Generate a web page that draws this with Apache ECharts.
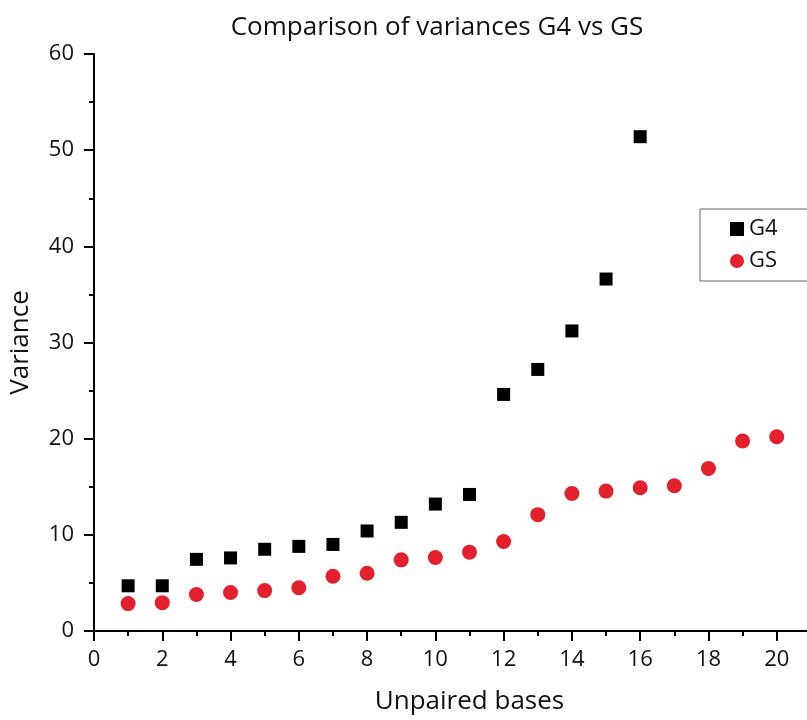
<!DOCTYPE html>
<html>
<head>
    <meta charset="utf-8">
    <title>Comparison of variances G4 vs GS</title>
    <script src="https://cdn.jsdelivr.net/npm/echarts@6/dist/echarts.min.js"></script>
</head>
<body style="margin:0">
<div id="chart" style="width:807px;height:720px;"></div>
<script>
    // x: unpaired bases
    var basesG4 = [1, 2, 3, 4, 5, 6, 7, 8, 9, 10, 11, 12, 13, 14, 15, 16];
    var varG4 = [4.7, 4.7, 7.45, 7.6, 8.5, 8.8, 9.0, 10.4, 11.3, 13.2, 14.2, 24.6, 27.2, 31.2, 36.6, 51.4];
    var basesGS = [1, 2, 3, 4, 5, 6, 7, 8, 9, 10, 11, 12, 13, 14, 15, 16, 17, 18, 19, 20];
    var varGS = [2.85, 2.95, 3.8, 4.0, 4.2, 4.5, 5.7, 6.0, 7.4, 7.65, 8.2, 9.3, 12.1, 14.3, 14.55, 14.9, 15.1, 16.9, 19.75, 20.2];

    function pairs(xs, ys) {
        var out = [];
        for (var i = 0; i < xs.length; i++) {
            out.push([xs[i], ys[i]]);
        }
        return out;
    }

    var font = '"Open Sans", "Noto Sans", sans-serif';
    var axisLine = {show: true, lineStyle: {color: '#000', width: 2}};
    var majorTick = {show: true, length: 10, lineStyle: {color: '#000', width: 2}};
    var minorTick = {show: true, splitNumber: 2, length: 5, lineStyle: {color: '#000', width: 2}};

    var myChart = echarts.init(document.getElementById('chart'));
    var option = {
        animation: false,
        backgroundColor: '#fff',
        title: {
            text: 'Comparison of variances G4 vs GS',
            left: 432,
            textAlign: 'center',
            top: 10,
            textStyle: {fontFamily: font, fontSize: 26, fontWeight: 'normal', color: '#111'}
        },
        legend: {
            orient: 'vertical',
            left: 700,
            top: 209,
            padding: [9, 60, 9, 30],
            itemGap: 10,
            itemWidth: 14,
            itemHeight: 14,
            borderColor: '#666',
            borderWidth: 1,
            textStyle: {fontFamily: font, fontSize: 22, color: '#111'},
            data: ['G4', 'GS']
        },
        grid: {left: 94, right: -38, top: 54, bottom: 89, outerBoundsMode: 'none', containLabel: false},
        xAxis: {
            type: 'value',
            min: 0,
            max: 22,
            interval: 2,
            name: 'Unpaired bases',
            nameLocation: 'middle',
            nameGap: 58,
            nameTextStyle: {fontFamily: font, fontSize: 26, color: '#111', verticalAlign: 'top'},
            axisLine: axisLine,
            axisTick: majorTick,
            minorTick: minorTick,
            axisLabel: {fontFamily: font, fontSize: 22, color: '#111', margin: 18},
            splitLine: {show: false}
        },
        yAxis: {
            type: 'value',
            min: 0,
            max: 60,
            interval: 10,
            name: 'Variance',
            nameLocation: 'middle',
            nameGap: 60,
            nameTextStyle: {fontFamily: font, fontSize: 26, color: '#111'},
            axisLine: axisLine,
            axisTick: majorTick,
            minorTick: minorTick,
            axisLabel: {fontFamily: font, fontSize: 22, color: '#111', margin: 20},
            splitLine: {show: false}
        },
        series: [{
            name: 'G4',
            type: 'scatter',
            symbol: 'rect',
            symbolSize: 13,
            itemStyle: {color: '#000', opacity: 1},
            data: pairs(basesG4, varG4)
        }, {
            name: 'GS',
            type: 'scatter',
            symbol: 'circle',
            symbolSize: 15,
            itemStyle: {color: '#e3202b', opacity: 1},
            data: pairs(basesGS, varGS)
        }]
    };
    myChart.setOption(option);
</script>
</body>
</html>
